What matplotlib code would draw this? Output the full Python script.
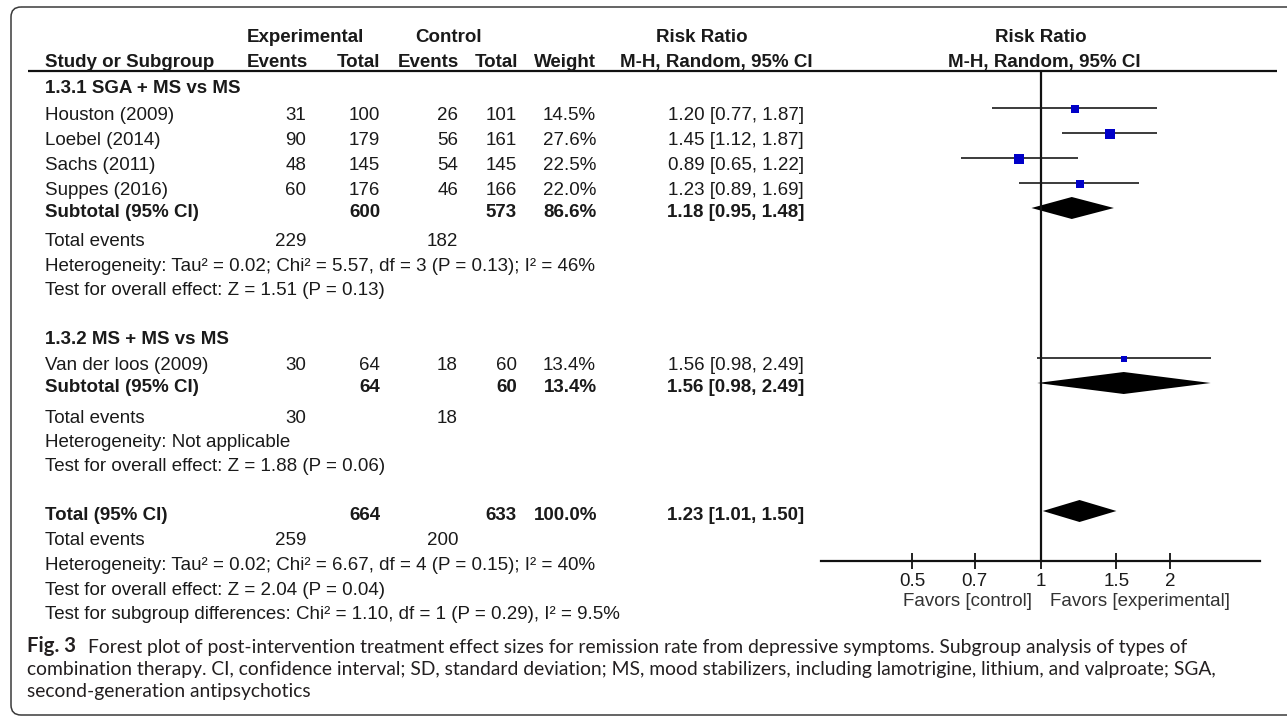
import numpy as np
import matplotlib
matplotlib.use("Agg")
import matplotlib.pyplot as plt
from matplotlib.patches import FancyBboxPatch
from matplotlib.ticker import NullLocator

# ---------------- data ----------------
subgroup_titles = ["1.3.1 SGA + MS vs MS", "1.3.2 MS + MS vs MS"]
studies = ["Houston (2009)", "Loebel (2014)", "Sachs (2011)", "Suppes (2016)", "Van der loos (2009)"]
exp_events = [31, 90, 48, 60, 30]
exp_total = [100, 179, 145, 176, 64]
ctrl_events = [26, 56, 54, 46, 18]
ctrl_total = [101, 161, 145, 166, 60]
weights = [14.5, 27.6, 22.5, 22.0, 13.4]
rr = [1.20, 1.45, 0.89, 1.23, 1.56]
rr_lo = [0.77, 1.12, 0.65, 0.89, 0.98]
rr_hi = [1.87, 1.87, 1.22, 1.69, 2.49]

pooled_labels = ["Subtotal (95% CI)", "Subtotal (95% CI)", "Total (95% CI)"]
pooled_exp_total = [600, 64, 664]
pooled_ctrl_total = [573, 60, 633]
pooled_weight = [86.6, 13.4, 100.0]
pooled_rr = [1.18, 1.56, 1.23]
pooled_lo = [0.95, 0.98, 1.01]
pooled_hi = [1.48, 2.49, 1.50]
total_events_exp = [229, 30, 259]
total_events_ctrl = [182, 18, 200]
heterogeneity = ["Heterogeneity: Tau\u00b2 = 0.02; Chi\u00b2 = 5.57, df = 3 (P = 0.13); I\u00b2 = 46%",
                 "Heterogeneity: Not applicable",
                 "Heterogeneity: Tau\u00b2 = 0.02; Chi\u00b2 = 6.67, df = 4 (P = 0.15); I\u00b2 = 40%"]
overall_effect = ["Test for overall effect: Z = 1.51 (P = 0.13)",
                  "Test for overall effect: Z = 1.88 (P = 0.06)",
                  "Test for overall effect: Z = 2.04 (P = 0.04)"]
subgroup_test = "Test for subgroup differences: Chi\u00b2 = 1.10, df = 1 (P = 0.29), I\u00b2 = 9.5%"
tick_values = [0.5, 0.7, 1, 1.5, 2]
tick_labels = ["0.5", "0.7", "1", "1.5", "2"]
favors_left = "Favors [control]"
favors_right = "Favors [experimental]"
caption_bold = "Fig. 3"
caption_lines = ["Forest plot of post-intervention treatment effect sizes for remission rate from depressive symptoms. Subgroup analysis of types of",
                 "combination therapy. CI, confidence interval; SD, standard deviation; MS, mood stabilizers, including lamotrigine, lithium, and valproate; SGA,",
                 "second-generation antipsychotics"]

# ---------------- layout (pixels) ----------------
W, H = 1287, 720
title_y = [86, 337]
study_y = [113, 138, 163, 188, 363]
pooled_y = [210, 385, 513]
totev_y = [239, 416, 538]
het_y = [264, 440, 563]
overall_y = [288, 464, 588]
subtest_y = 612
BASE = 6.6            # baseline offset from visual centre
X_LABEL = 45
X_EE, X_ET, X_CE, X_CT, X_W, X_RR = 306, 380, 458, 517, 596, 804
FS = 13.5
TXT = "#1a1a1a"
FONT = ["Liberation Sans", "DejaVu Sans"]
CAPFONT = ["Lato", "DejaVu Sans"]

fig = plt.figure(figsize=(W / 100, H / 100), dpi=100)
bg = fig.add_axes([0, 0, 1, 1])
bg.set_xlim(0, W)
bg.set_ylim(H, 0)
bg.axis("off")

# frame
bg.add_patch(FancyBboxPatch((11, 7), 1300, 708, boxstyle="round,pad=0,rounding_size=10",
                            fc="none", ec="#3a3a3a", lw=1.1))


def t(x, y, s, ha="left", bold=False, color=TXT, size=FS, family=FONT, base=BASE):
    return bg.text(x, y + base, s, ha=ha, va="baseline", fontsize=size,
                   fontweight="bold" if bold else "normal", color=color, family=family)


# header
t(305, 35, "Experimental", ha="center", bold=True)
t(449, 35, "Control", ha="center", bold=True)
t(702, 35, "Risk Ratio", ha="center", bold=True)
t(1041, 35, "Risk Ratio", ha="center", bold=True)
t(X_LABEL, 60, "Study or Subgroup", bold=True)
for xh, s in zip([X_EE + 2, X_ET, X_CE + 1, X_CT + 1, X_W], ["Events", "Total", "Events", "Total", "Weight"]):
    t(xh, 60, s, ha="right", bold=True)
t(716, 60, "M-H, Random, 95% CI", ha="center", bold=True)
t(1044, 60, "M-H, Random, 95% CI", ha="center", bold=True)
bg.plot([28, 1277], [70.5, 70.5], color="#111111", lw=1.6, solid_capstyle="butt")

# subgroup titles
for s, y in zip(subgroup_titles, title_y):
    t(X_LABEL, y, s, bold=True)

# study rows
for i, s in enumerate(studies):
    y = study_y[i]
    t(X_LABEL, y, s)
    t(X_EE, y, str(exp_events[i]), ha="right")
    t(X_ET, y, str(exp_total[i]), ha="right")
    t(X_CE, y, str(ctrl_events[i]), ha="right")
    t(X_CT, y, str(ctrl_total[i]), ha="right")
    t(X_W, y, f"{weights[i]:.1f}%", ha="right")
    t(X_RR, y, f"{rr[i]:.2f} [{rr_lo[i]:.2f}, {rr_hi[i]:.2f}]", ha="right")

# pooled rows
for j in range(3):
    y = pooled_y[j]
    t(X_LABEL, y, pooled_labels[j], bold=True)
    t(X_ET, y, str(pooled_exp_total[j]), ha="right", bold=True)
    t(X_CT, y, str(pooled_ctrl_total[j]), ha="right", bold=True)
    t(X_W + 1, y, f"{pooled_weight[j]:.1f}%", ha="right", bold=True)
    t(X_RR, y, f"{pooled_rr[j]:.2f} [{pooled_lo[j]:.2f}, {pooled_hi[j]:.2f}]", ha="right", bold=True)
    t(X_LABEL, totev_y[j], "Total events")
    t(X_EE, totev_y[j], str(total_events_exp[j]), ha="right")
    t(X_CE, totev_y[j], str(total_events_ctrl[j]), ha="right")
    t(X_LABEL, het_y[j], heterogeneity[j])
    t(X_LABEL, overall_y[j], overall_effect[j])
t(X_LABEL, subtest_y, subgroup_test)

# ---------------- forest panel ----------------
X0, K = 1041.0, 186.0
AX_L, AX_R, AX_T, AX_B = 821, 1260, 71, 561
fa = fig.add_axes([AX_L / W, 1 - AX_B / H, (AX_R - AX_L) / W, (AX_B - AX_T) / H])
fa.patch.set_visible(False)
fa.set_xscale("log")
fa.set_xlim(np.exp((AX_L - X0) / K), np.exp((AX_R - X0) / K))
fa.set_ylim(AX_B, AX_T)
for sp in ["top", "left", "right"]:
    fa.spines[sp].set_visible(False)
fa.spines["bottom"].set_linewidth(1.6)
fa.spines["bottom"].set_color("#111111")
fa.set_yticks([])
fa.set_xticks(tick_values)
fa.set_xticklabels(tick_labels, family=FONT, fontsize=FS, color=TXT)
fa.xaxis.set_minor_locator(NullLocator())
fa.tick_params(axis="x", direction="inout", length=11, width=1.3, color="#111111", pad=3.5)
fa.axvline(1, color="#111111", lw=1.6)

study_line_y = [y - 5 for y in study_y]
fa.hlines(study_line_y, rr_lo, rr_hi, color="#1a1a1a", lw=1.2)
for i in range(len(studies)):
    fa.plot(rr[i], study_line_y[i] + 1.2, marker="s", linestyle="none",
            ms=1.37 * np.sqrt(weights[i]), color="#0000c8", mec="#0000c8", mew=0)
for j in range(3):
    yc = pooled_y[j] - 2
    fa.fill([pooled_lo[j], pooled_rr[j], pooled_hi[j], pooled_rr[j]],
            [yc, yc - 11, yc, yc + 11], color="#000000", lw=0)

t(1032, 599, favors_left, ha="right", color="#333333")
t(1050, 599, favors_right, ha="left", color="#333333")

# ---------------- caption ----------------
renderer = fig.canvas.get_renderer()


def width_at(s, size, family, weight="normal"):
    tt = bg.text(0, 0, s, fontsize=size, family=family, fontweight=weight)
    w = tt.get_window_extent(renderer).width
    tt.remove()
    return w


CAP_X0, CAP_X1, CAP_REST = 27, 1217, 88
cap_size = 10 * (CAP_X1 - CAP_X0) / width_at(caption_lines[1], 10, CAPFONT)
cap_y = [647, 670, 692]
CAPC = "#231f20"
CB = 5.5
t(CAP_X0, cap_y[0], caption_bold, bold=True, color=CAPC, size=cap_size * 1.05, family=CAPFONT, base=CB)
t(CAP_REST, cap_y[0], caption_lines[0], color=CAPC, size=cap_size, family=CAPFONT, base=CB)
t(CAP_X0, cap_y[1], caption_lines[1], color=CAPC, size=cap_size, family=CAPFONT, base=CB)
t(CAP_X0, cap_y[2], caption_lines[2], color=CAPC, size=cap_size, family=CAPFONT, base=CB)

fig.savefig("out.png", dpi=100)
